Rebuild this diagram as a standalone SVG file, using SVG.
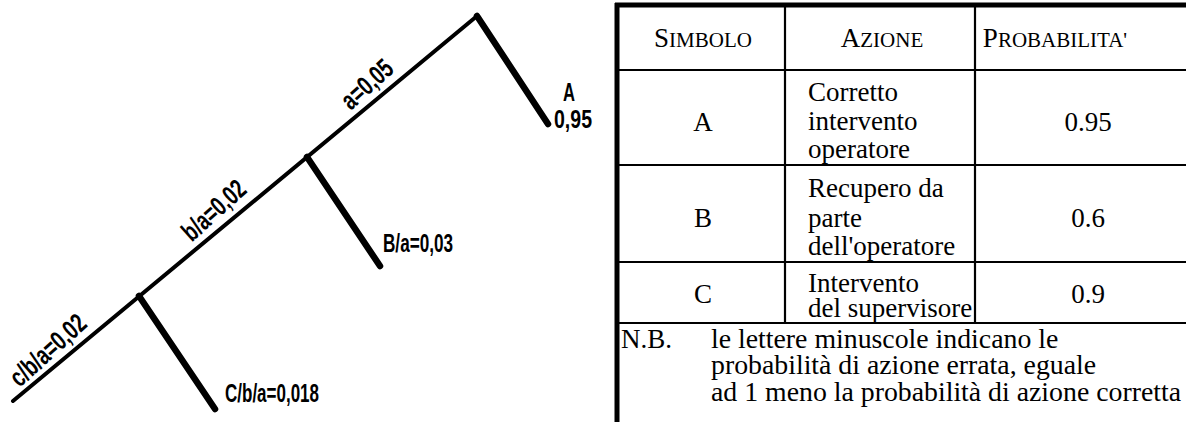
<svg xmlns="http://www.w3.org/2000/svg" width="1186" height="422" viewBox="0 0 1186 422">
<style>
.main{stroke:#000;stroke-width:4;fill:none;stroke-linecap:round}
.br{stroke:#000;stroke-width:6.5;fill:none;stroke-linecap:round}
.lbl{font-family:"Liberation Sans",Arial,sans-serif;font-weight:bold;font-size:26px;fill:#000}
.rot{font-size:27px}
.tb{stroke:#000;stroke-width:2.2;fill:none}
.tbb{stroke:#000;stroke-width:5;fill:none}
.t{font-family:"Liberation Serif","Times New Roman",serif;font-size:27px;fill:#000}
.nb{font-size:27.8px}
.sc{font-size:21px}
</style>
<rect width="1186" height="422" fill="#fff"/>
<g id="connectors">
<path class="main" d="M13,401 L477,16"/>
<path class="br" d="M477,16 L548,124"/>
<path class="br" d="M307,157 L380,266"/>
<path class="br" d="M139,296 L215,409"/>
</g>
<g id="label-a">
<text class="lbl rot" transform="translate(373,91) rotate(-42)" text-anchor="middle" textLength="60" lengthAdjust="spacingAndGlyphs">a=0,05</text>
</g>
<g id="label-ba">
<text class="lbl rot" transform="translate(220,217) rotate(-42)" text-anchor="middle" textLength="76" lengthAdjust="spacingAndGlyphs">b/a=0,02</text>
</g>
<g id="label-cba">
<text class="lbl rot" transform="translate(54,357) rotate(-42)" text-anchor="middle" textLength="93" lengthAdjust="spacingAndGlyphs">c/b/a=0,02</text>
</g>
<g id="node-A">
<text class="lbl" x="569" y="101" text-anchor="middle" textLength="12" lengthAdjust="spacingAndGlyphs">A</text>
<text class="lbl" x="554" y="128" textLength="38" lengthAdjust="spacingAndGlyphs">0,95</text>
</g>
<g id="node-B">
<text class="lbl" x="383" y="252" textLength="70" lengthAdjust="spacingAndGlyphs">B/a=0,03</text>
</g>
<g id="node-C">
<text class="lbl" x="225" y="402" textLength="94" lengthAdjust="spacingAndGlyphs">C/b/a=0,018</text>
</g>
<g id="table">
<path class="tbb" d="M617,3 V422 M615,5 H1186"/>
<path class="tb" d="M618,70 H1186 M618,165 H1186 M618,262 H1186 M618,323 H1186 M785,5 V323 M975,5 V323"/>
<text class="t" x="703" y="47" text-anchor="middle">S<tspan class="sc">IMBOLO</tspan></text>
<text class="t" x="882" y="47" text-anchor="middle">A<tspan class="sc">ZIONE</tspan></text>
<text class="t" x="1055" y="47" text-anchor="middle">P<tspan class="sc">ROBABILITA'</tspan></text>
<text class="t" x="703" y="131" text-anchor="middle">A</text>
<text class="t" x="808" y="101">Corretto</text>
<text class="t" x="808" y="130">intervento</text>
<text class="t" x="808" y="158">operatore</text>
<text class="t" x="1088" y="131" text-anchor="middle">0.95</text>
<text class="t" x="703" y="227" text-anchor="middle">B</text>
<text class="t" x="808" y="197">Recupero da</text>
<text class="t" x="808" y="227">parte</text>
<text class="t" x="808" y="255">dell'operatore</text>
<text class="t" x="1088" y="227" text-anchor="middle">0.6</text>
<text class="t" x="703" y="303" text-anchor="middle">C</text>
<text class="t" x="808" y="292">Intervento</text>
<text class="t" x="808" y="317">del supervisore</text>
<text class="t" x="1088" y="303" text-anchor="middle">0.9</text>
<text class="t" x="621" y="348">N.B.</text>
<text class="t nb" x="711" y="348">le lettere minuscole indicano le</text>
<text class="t nb" x="711" y="374">probabilità di azione errata, eguale</text>
<text class="t nb" x="711" y="401">ad 1 meno la probabilità di azione corretta</text>
</g>
</svg>
